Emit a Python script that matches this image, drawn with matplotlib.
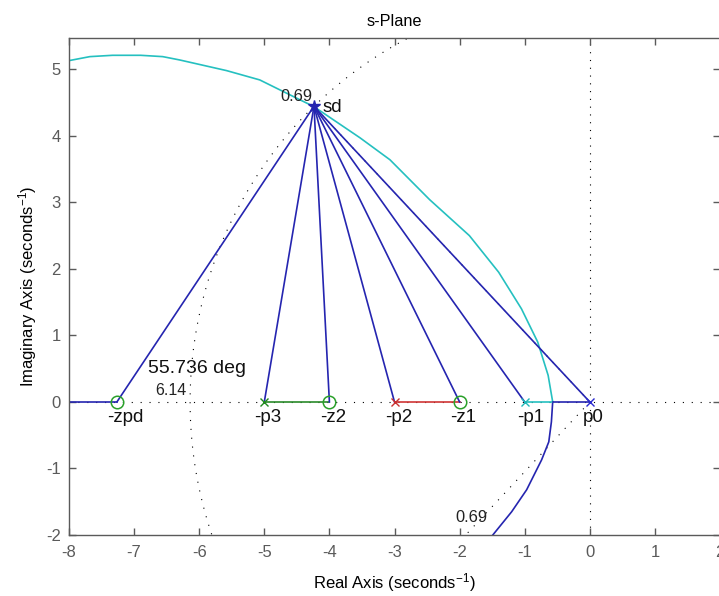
import numpy as np
import matplotlib
matplotlib.use("Agg")
import matplotlib.pyplot as plt

plt.rcParams['font.family'] = ['Liberation Sans', 'DejaVu Sans']
plt.rcParams['mathtext.fontset'] = 'custom'
plt.rcParams['mathtext.rm'] = 'Liberation Sans'
plt.rcParams['mathtext.it'] = 'Liberation Sans:italic'
plt.rcParams['axes.unicode_minus'] = False

# ---- data ----
pole_names = ['p0', '-p1', '-p2', '-p3']
poles = [0.0, -1.0, -3.0, -5.0]
pole_colors = ['#2a2ad0', '#20b8b8', '#c83030', '#208a20']
zero_names = ['-z1', '-z2', '-zpd']
zeros = [-2.0, -4.0, -7.264]
sd_re, sd_im = -4.237, 4.444
zeta = 0.69
wn = 6.14
angle_deg = 55.736

# locus branches
cyan_x = [-8.0, -7.68, -7.33, -6.9, -6.56, -6.30, -5.58, -5.07, -4.45, -4.24,
          -3.53, -3.07, -2.46, -1.85, -1.40, -1.05, -0.80, -0.64, -0.57]
cyan_y = [5.13, 5.19, 5.21, 5.21, 5.19, 5.14, 4.98, 4.84, 4.54, 4.44,
          3.97, 3.64, 3.04, 2.50, 1.95, 1.40, 0.90, 0.40, 0.0]
blue_x = [-0.57, -0.59, -0.63, -0.74, -0.97, -1.20, -1.49]
blue_y = [0.0, -0.30, -0.60, -0.87, -1.32, -1.65, -2.0]
# real-axis segments (start, end)
seg_blue_left = (-8.0, -7.264)
seg_green = (-5.0, -4.0)
seg_red = (-3.0, -2.0)
seg_cyan = (-1.0, -0.57)
seg_blue_right = (-0.57, 0.0)

# label positions (left x) for pole/zero names
label_names = ['-zpd', '-p3', '-z2', '-p2', '-z1', '-p1', 'p0']
label_x = [-7.42, -5.15, -4.15, -3.15, -2.15, -1.12, -0.11]
label_y = -0.24

xlim = (-8, 2)
ylim = (-2, 5.47)
xticks = [-8, -7, -6, -5, -4, -3, -2, -1, 0, 1, 2]
yticks = [-2, -1, 0, 1, 2, 3, 4, 5]

BLUE = '#2525b0'
CYAN = '#25c0c0'
GREEN = '#2a8a2a'
RED = '#d03535'
GRAY = '#5a5a5a'

fig = plt.figure(figsize=(7.19, 5.96), dpi=100)
ax = fig.add_axes([69/719, 61/596, (720-69)/719, (535-38)/596])
ax.set_xlim(*xlim)
ax.set_ylim(*ylim)

dot = (0, (1, 7))
# axes dotted lines
ax.axhline(0, color='k', lw=0.8, ls=dot, zorder=1)
ax.axvline(0, color='k', lw=0.8, ls=(0, (1, 6)), zorder=1)
# sgrid: constant wn circle and constant zeta lines
th = np.linspace(np.pi/2, 3*np.pi/2, 400)
ax.plot(wn*np.cos(th), wn*np.sin(th), color='k', lw=0.8, ls=dot, zorder=1)
r = np.linspace(0, wn, 50)
ang = np.arccos(zeta)
ax.plot(-r*np.cos(ang), r*np.sin(ang), color='k', lw=0.8, ls=dot, zorder=1)
ax.plot(-r*np.cos(ang), -r*np.sin(ang), color='k', lw=0.8, ls=dot, zorder=1)

# locus
ax.plot(cyan_x, cyan_y, color=CYAN, lw=1.2, zorder=2)
ax.plot(blue_x, blue_y, color=BLUE, lw=1.2, zorder=2)
ax.plot(seg_blue_left, [0, 0], color=BLUE, lw=1.2, zorder=2)
ax.plot(seg_green, [0, 0], color=GREEN, lw=1.2, zorder=2)
ax.plot(seg_red, [0, 0], color=RED, lw=1.2, zorder=2)
ax.plot(seg_cyan, [0, 0], color=CYAN, lw=1.2, zorder=2)
ax.plot(seg_blue_right, [0, 0], color=BLUE, lw=1.2, zorder=2)

# lines from sd to poles and zeros
for p in poles + zeros:
    ax.plot([sd_re, p], [sd_im, 0], color=BLUE, lw=1.2, zorder=3)
ax.plot([sd_re], [sd_im], marker='*', color=BLUE, ms=9, zorder=4)

# markers
for p, c in zip(poles, pole_colors):
    ax.plot([p], [0], marker='x', color=c, ms=6, mew=1.0, zorder=5)
for z in zeros:
    ax.plot([z], [0], marker='o', mfc='none', mec='#2aa02a', ms=9, mew=1.1, zorder=5)

# texts
for name, lx in zip(label_names, label_x):
    ax.text(lx, label_y, name, fontsize=13.5, ha='left', va='center', color='#111111')
ax.text(-4.10, 4.42, 'sd', fontsize=13.5, ha='left', va='center', color='#111111')
ax.text(-4.76, 4.59, f'{zeta}', fontsize=11.8, ha='left', va='center', color='#222222')
ax.text(-2.07, -1.73, f'{zeta}', fontsize=11.8, ha='left', va='center', color='#222222')
ax.text(-6.67, 0.165, f'{wn}', fontsize=11.5, ha='left', va='center', color='#222222')
ax.text(-6.79, 0.50, f'{angle_deg} deg', fontsize=14, ha='left', va='center', color='#111111')

ax.set_title('s-Plane', fontsize=11.7, pad=9)
ax.set_xlabel('Real Axis (seconds$^{-1}$)', fontsize=12, labelpad=8)
ax.set_ylabel('Imaginary Axis (seconds$^{-1}$)', fontsize=12, labelpad=5)

ax.set_xticks(xticks)
ax.set_yticks(yticks)
ax.tick_params(direction='in', length=5, width=1, color=GRAY, labelcolor=GRAY,
               labelsize=12, top=True, right=True)
ax.tick_params(axis='x', pad=7)
ax.tick_params(axis='y', pad=6)
for s in ax.spines.values():
    s.set_color(GRAY)
    s.set_linewidth(1.0)

fig.savefig('out.png', dpi=100)
